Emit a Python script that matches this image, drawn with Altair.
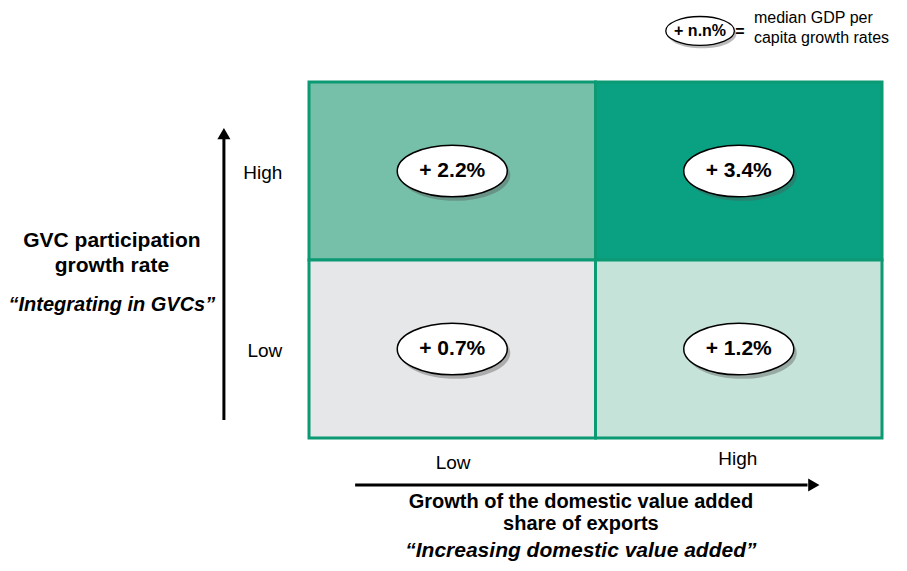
import altair as alt
import pandas as pd

# ---- data ----
dva_levels = ["Low", "High"]          # growth of domestic value added share (x)
gvc_levels = ["Low", "High"]          # GVC participation growth (y)
cell_dva = ["Low", "High", "Low", "High"]
cell_gvc = ["High", "High", "Low", "Low"]
gdp_growth = [2.2, 3.4, 0.7, 1.2]
cell_colors = ["#76BFA9", "#0AA183", "#E6E7E8", "#C5E3D8"]

FONT = "Liberation Sans"
GREEN = "#0B9A73"

rows = []
for d, g, v, c in zip(cell_dva, cell_gvc, gdp_growth, cell_colors):
    xi = dva_levels.index(d)
    yi = gvc_levels.index(g)
    rows.append(dict(dva=d, gvc=g, x0=xi, x1=xi + 1, y0=yi, y1=yi + 1,
                     xc=xi + 0.5, yc=yi + 0.5, label=f"+ {v}%", color=c))
cells = pd.DataFrame(rows)

xs = alt.Scale(domain=[0, 2], nice=False, zero=False)
ys = alt.Scale(domain=[0, 2], nice=False, zero=False)

base = alt.Chart(cells)

rects = base.mark_rect(stroke=GREEN, strokeWidth=3).encode(
    x=alt.X("x0:Q", scale=xs, axis=None), x2="x1:Q",
    y=alt.Y("y0:Q", scale=ys, axis=None), y2="y1:Q",
    fill=alt.Fill("color:N", scale=None),
)

ELLIPSE = "M -1 0 A 1 0.47 0 1 1 1 0 A 1 0.47 0 1 1 -1 0 Z"
ELLIPSE_L = "M -1 0 A 1 0.42 0 1 1 1 0 A 1 0.42 0 1 1 -1 0 Z"

shadow = base.mark_point(shape=ELLIPSE, filled=True, color="#555555", opacity=0.4,
                         size=12100, xOffset=3, yOffset=4).encode(
    x=alt.X("xc:Q", scale=xs), y=alt.Y("yc:Q", scale=ys))
ell = base.mark_point(shape=ELLIPSE, filled=False, fill="white", fillOpacity=1,
                      stroke="black", strokeWidth=1.5, opacity=1, size=12100).encode(
    x=alt.X("xc:Q", scale=xs), y=alt.Y("yc:Q", scale=ys))
txt = base.mark_text(font=FONT, fontSize=21, fontWeight="bold", color="black").encode(
    x=alt.X("xc:Q", scale=xs), y=alt.Y("yc:Q", scale=ys), text="label:N")

# ---- annotations (in the same data units) ----
ann = pd.DataFrame([
    dict(t="High", u=-0.161, v=1.489, s=19, w="normal", st="normal", b="middle"),
    dict(t="Low", u=-0.154, v=0.489, s=19, w="normal", st="normal", b="middle"),
    dict(t="Low", u=0.503, v=-0.140, s=19, w="normal", st="normal", b="middle"),
    dict(t="High", u=1.497, v=-0.118, s=19, w="normal", st="normal", b="middle"),
    dict(t="Growth of the domestic value added", u=0.949, v=-0.362, s=20, w="bold", st="normal", b="middle"),
    dict(t="share of exports", u=0.949, v=-0.483, s=20, w="bold", st="normal", b="middle"),
    dict(t="\u201cIncreasing domestic value added\u201d", u=0.949, v=-0.671, s=21, w="bold", st="italic", b="alphabetic"),
    dict(t="GVC participation", u=-0.688, v=1.107, s=21, w="bold", st="normal", b="middle"),
    dict(t="growth rate", u=-0.688, v=0.966, s=21, w="bold", st="normal", b="middle"),
    dict(t="\u201cIntegrating in GVCs\u201d", u=-0.688, v=0.747, s=20, w="bold", st="italic", b="middle"),
])

ann_layers = []
for (s, w, st, b), grp in ann.groupby(["s", "w", "st", "b"]):
    ann_layers.append(alt.Chart(grp).mark_text(font=FONT, fontSize=int(s), fontWeight=w,
                                               fontStyle=st, baseline=b, color="black").encode(
        x=alt.X("u:Q", scale=xs), y=alt.Y("v:Q", scale=ys), text="t:N"))

# arrows
arrows = pd.DataFrame([
    dict(ua=-0.297, ub=-0.297, va=0.101, vb=1.69),
    dict(ua=0.161, ub=1.74, va=-0.264, vb=-0.264),
])
arrow_lines = alt.Chart(arrows).mark_rule(color="black", strokeWidth=3).encode(
    x=alt.X("ua:Q", scale=xs), x2="ub:Q", y=alt.Y("va:Q", scale=ys), y2="vb:Q")
heads = pd.DataFrame([
    dict(u=-0.297, v=1.71, sh="triangle-up"),
    dict(u=1.762, v=-0.264, sh="triangle-right"),
])
arrow_heads = alt.Chart(heads).mark_point(filled=True, color="black", opacity=1, size=170).encode(
    x=alt.X("u:Q", scale=xs), y=alt.Y("v:Q", scale=ys),
    shape=alt.Shape("sh:N", scale=None))

# legend
leg = pd.DataFrame([dict(u=1.365, v=2.287, t="+ n.n%")])
leg_shadow = alt.Chart(leg).mark_point(shape=ELLIPSE_L, filled=True, color="#555555", opacity=0.4,
                                       size=4700, xOffset=2, yOffset=3).encode(
    x=alt.X("u:Q", scale=xs), y=alt.Y("v:Q", scale=ys))
leg_ell = alt.Chart(leg).mark_point(shape=ELLIPSE_L, filled=False, fill="white", fillOpacity=1,
                                    stroke="black", strokeWidth=1.3, opacity=1, size=4700).encode(
    x=alt.X("u:Q", scale=xs), y=alt.Y("v:Q", scale=ys))
leg_txt = alt.Chart(leg).mark_text(font=FONT, fontSize=16, fontWeight="bold", color="black").encode(
    x=alt.X("u:Q", scale=xs), y=alt.Y("v:Q", scale=ys), text="t:N")
leg_eq = alt.Chart(pd.DataFrame([dict(u=1.504, v=2.283, t="=")])).mark_text(
    font=FONT, fontSize=16, fontWeight="bold", color="black").encode(
    x=alt.X("u:Q", scale=xs), y=alt.Y("v:Q", scale=ys), text="t:N")
leg_desc = alt.Chart(pd.DataFrame([
    dict(u=1.553, v=2.357, t="median GDP per"),
    dict(u=1.553, v=2.250, t="capita growth rates"),
])).mark_text(font=FONT, fontSize=16, color="black", align="left").encode(
    x=alt.X("u:Q", scale=xs), y=alt.Y("v:Q", scale=ys), text="t:N")

chart = alt.layer(
    rects, shadow, ell, txt, *ann_layers, arrow_lines, arrow_heads,
    leg_shadow, leg_ell, leg_txt, leg_eq, leg_desc,
).properties(
    width=573, height=356,
    autosize="none",
    padding={"left": 301, "top": 74, "right": 17, "bottom": 125},
).configure_view(stroke=None)

chart.save("out.html", embed_options={"renderer": "svg", "actions": False})
